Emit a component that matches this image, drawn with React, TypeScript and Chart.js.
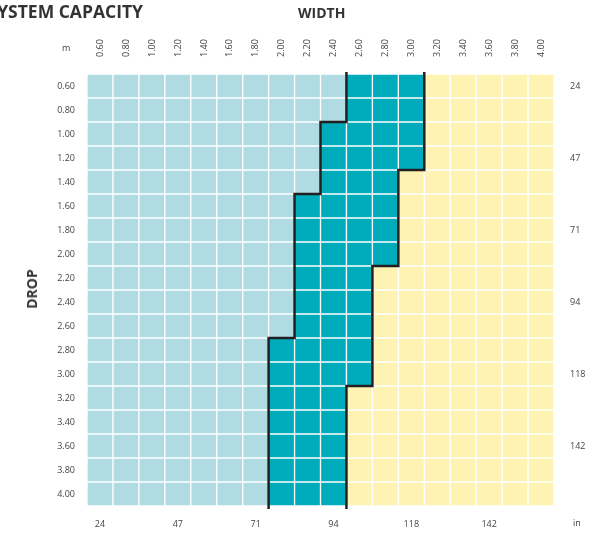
import React, { useEffect, useRef } from "react";
import { Chart, registerables } from "chart.js";

Chart.register(...registerables);

const widths = ["0.60","0.80","1.00","1.20","1.40","1.60","1.80","2.00","2.20","2.40","2.60","2.80","3.00","3.20","3.40","3.60","3.80","4.00"];
const drops = ["0.60","0.80","1.00","1.20","1.40","1.60","1.80","2.00","2.20","2.40","2.60","2.80","3.00","3.20","3.40","3.60","3.80","4.00"];
// teal range (min and max width) for each drop
const tealMinWidth = ["2.60","2.60","2.40","2.40","2.40","2.20","2.20","2.20","2.20","2.20","2.20","2.00","2.00","2.00","2.00","2.00","2.00","2.00"];
const tealMaxWidth = ["3.00","3.00","3.00","3.00","2.80","2.80","2.80","2.80","2.60","2.60","2.60","2.60","2.60","2.40","2.40","2.40","2.40","2.40"];
// inch tick labels
const inchTickAt = ["0.60","1.20","1.80","2.40","3.00","3.60"];
const inchTickLabels = ["24","47","71","94","118","142"];

const COLOR_LOW = "#b0dbe2";
const COLOR_MID = "#00abbc";
const COLOR_HIGH = "#fef3b3";
const LINE = "#231f20";
const TEXT = "#444444";
const FONT = "'Open Sans', sans-serif";

const stepLines = {
  id: "stepLines",
  afterDatasetsDraw(chart: any) {
    const x = chart.scales.x;
    const y = chart.scales.y;
    const colW = x.getPixelForValue(1) - x.getPixelForValue(0);
    const ctx = chart.ctx;
    ctx.save();
    ctx.strokeStyle = LINE;
    ctx.lineWidth = 2.5;
    ctx.lineJoin = "miter";
    ctx.lineCap = "butt";
    const draw = (edgeX: (r: number) => number) => {
      ctx.beginPath();
      drops.forEach((_, r) => {
        const xe = edgeX(r);
        const top = y.getPixelForValue(r - 0.5) - (r === 0 ? 2 : 0);
        const bot = y.getPixelForValue(r + 0.5) + (r === drops.length - 1 ? 3 : 0);
        if (r === 0) ctx.moveTo(xe, top);
        else ctx.lineTo(xe, top);
        ctx.lineTo(xe, bot);
      });
      ctx.stroke();
    };
    draw((r) => x.getPixelForValue(widths.indexOf(tealMinWidth[r])) - colW / 2);
    draw((r) => x.getPixelForValue(widths.indexOf(tealMaxWidth[r])) + colW / 2);
    ctx.restore();
  },
};

export default function App() {
  const ref = useRef<HTMLCanvasElement>(null);
  useEffect(() => {
    const datasets = drops.map((d, r) => {
      const lo = widths.indexOf(tealMinWidth[r]);
      const hi = widths.indexOf(tealMaxWidth[r]);
      return {
        label: d,
        data: widths.map(() => [r - 0.5, r + 0.5]),
        backgroundColor: widths.map((_, c) => (c < lo ? COLOR_LOW : c > hi ? COLOR_HIGH : COLOR_MID)),
        borderColor: "#ffffff",
        borderWidth: 1,
        borderSkipped: false,
        barPercentage: 1,
        categoryPercentage: 1,
        xAxisID: "x",
        yAxisID: "y",
      };
    });
    const tickFont = { family: FONT, size: 9 };
    const chart = new Chart(ref.current!, {
      type: "bar",
      data: { labels: widths, datasets: datasets as any },
      options: {
        animation: false,
        responsive: false,
        events: [],
        layout: { padding: 0 },
        plugins: { legend: { display: false }, tooltip: { enabled: false } },
        scales: {
          x: {
            type: "category",
            position: "top",
            stacked: true,
            offset: true,
            grid: { display: false, drawTicks: false },
            border: { display: false },
            ticks: { font: tickFont, color: TEXT, minRotation: 90, maxRotation: 90, autoSkip: false, padding: 17, labelOffset: 11 },
            afterFit: (s: any) => { s.height = 74; },
          },
          xb: {
            type: "category",
            position: "bottom",
            labels: widths,
            offset: true,
            grid: { display: false, drawTicks: false },
            border: { display: false },
            ticks: {
              font: tickFont, color: TEXT, autoSkip: false, maxRotation: 0, padding: 13,
              callback: (v: any) => {
                const i = inchTickAt.indexOf(widths[v]);
                return i >= 0 ? inchTickLabels[i] : "";
              },
            },
            afterFit: (s: any) => { s.height = 33; },
          },
          y: {
            type: "linear",
            position: "left",
            stacked: false,
            reverse: true,
            min: -0.5,
            max: drops.length - 0.5,
            grid: { display: false, drawTicks: false },
            border: { display: false },
            afterBuildTicks: (s: any) => { s.ticks = drops.map((_, i) => ({ value: i })); },
            ticks: { font: tickFont, color: TEXT, padding: 12, callback: (v: any) => drops[v] },
            afterFit: (s: any) => { s.width = 87; },
          },
          y2: {
            type: "linear",
            position: "right",
            reverse: true,
            min: -0.5,
            max: drops.length - 0.5,
            grid: { display: false, drawTicks: false },
            border: { display: false },
            afterBuildTicks: (s: any) => { s.ticks = inchTickAt.map((d) => ({ value: drops.indexOf(d) })); },
            ticks: {
              font: tickFont, color: TEXT, padding: 16,
              callback: (v: any) => inchTickLabels[inchTickAt.indexOf(drops[v])],
            },
            afterFit: (s: any) => { s.width = 43; },
          },
        },
      } as any,
      plugins: [stepLines],
    });
    return () => chart.destroy();
  }, []);

  const txt: React.CSSProperties = { position: "absolute", fontFamily: FONT, color: "#333", whiteSpace: "nowrap", lineHeight: 1 };
  return (
    <div style={{ position: "fixed", left: 0, top: 0, width: 597, height: 539, background: "#fff", overflow: "hidden" }}>
      <canvas ref={ref} width={597} height={539} style={{ position: "absolute", left: 0, top: 0, width: 597, height: 539 }} />
      <div style={{ ...txt, right: 454, top: 3, fontSize: 17.5, fontWeight: 700 }}>SYSTEM CAPACITY</div>
      <div style={{ ...txt, left: 298, top: 6, fontSize: 14, fontWeight: 700 }}>WIDTH</div>
      <div style={{ ...txt, left: 32, top: 289, fontSize: 14, fontWeight: 700, transform: "translate(-50%, -50%) rotate(-90deg)" }}>DROP</div>
      <div style={{ ...txt, left: 62, top: 43, fontSize: 9, color: TEXT }}>m</div>
      <div style={{ ...txt, left: 573, top: 518, fontSize: 9, color: TEXT }}>in</div>
    </div>
  );
}
